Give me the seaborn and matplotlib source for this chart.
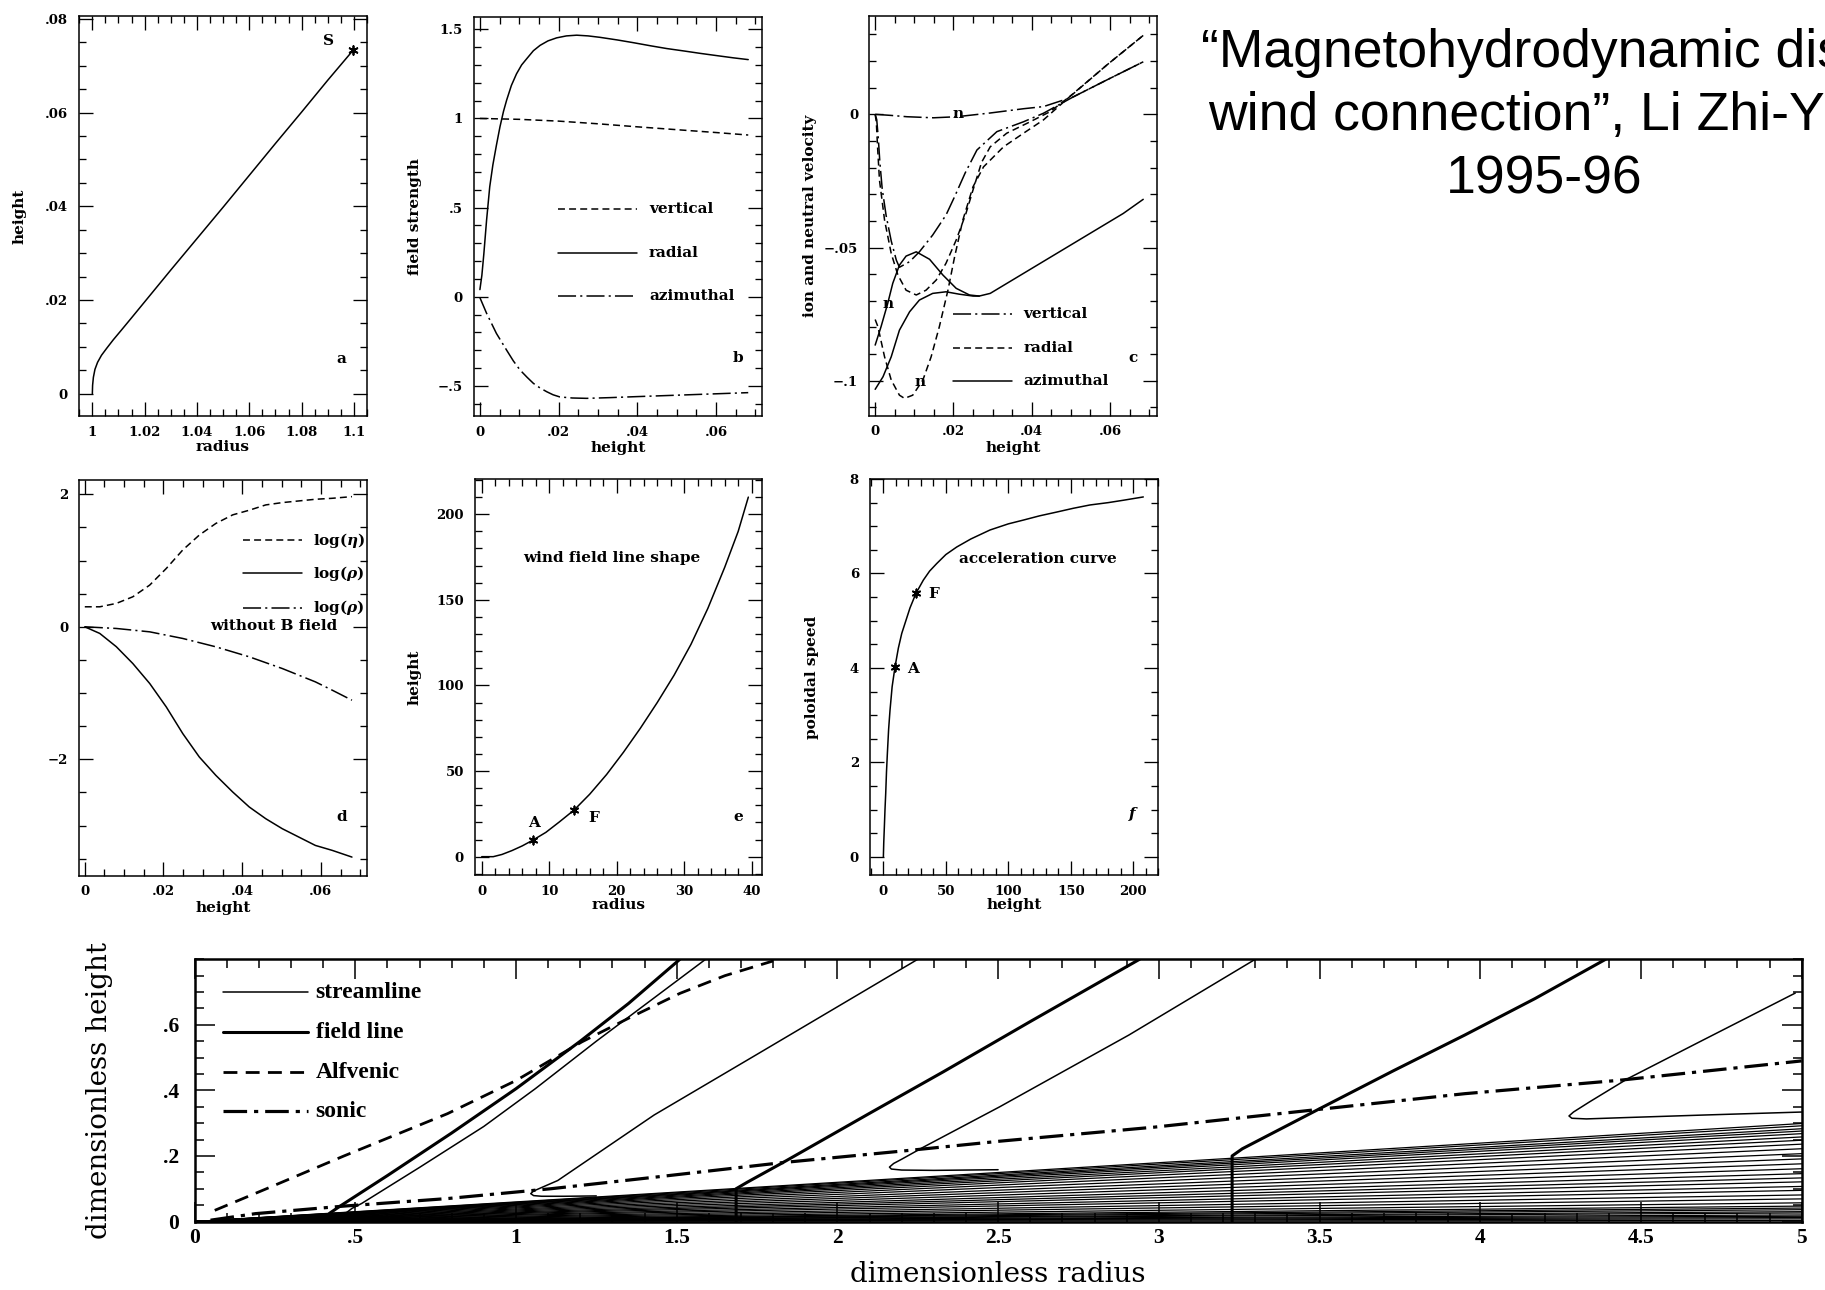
import matplotlib
matplotlib.use("Agg")
import matplotlib.pyplot as plt
from matplotlib.ticker import MultipleLocator, FixedLocator, FuncFormatter
import seaborn as sns

# ---------------- DATA ----------------
# Panel a : field line shape near the disk
a_radius = [1.0, 1.0001, 1.0004, 1.001, 1.002, 1.0035, 1.0055, 1.008, 1.011, 1.015, 1.02,
            1.03, 1.04, 1.05, 1.06, 1.07, 1.08, 1.09, 1.0997]
a_height = [0.0, 0.0018, 0.0035, 0.0052, 0.0067, 0.0082, 0.0097, 0.0115, 0.0135, 0.0162, 0.0196,
            0.0264, 0.0331, 0.0398, 0.0466, 0.0534, 0.0601, 0.0669, 0.0733]
a_point_r = [1.0997]
a_point_h = [0.0733]
a_xticks = [1.0, 1.02, 1.04, 1.06, 1.08, 1.1]
a_yticks = [0.0, 0.02, 0.04, 0.06, 0.08]

# Panel b : field strength vs height
b_h_radial = [0, 0.0005, 0.001, 0.0017, 0.0025, 0.0033, 0.0042, 0.0051, 0.006, 0.0068, 0.008,
              0.0093, 0.0106, 0.0119, 0.0136, 0.0153, 0.0173, 0.0195, 0.022, 0.0246, 0.0275,
              0.0305, 0.035, 0.039, 0.0435, 0.0475, 0.052, 0.056, 0.06, 0.0644, 0.0682]
b_radial = [0.04, 0.12, 0.24, 0.43, 0.617, 0.74, 0.85, 0.953, 1.04, 1.103, 1.185,
            1.25, 1.3, 1.335, 1.38, 1.41, 1.435, 1.452, 1.463, 1.467, 1.463,
            1.455, 1.44, 1.425, 1.407, 1.392, 1.378, 1.365, 1.353, 1.34, 1.33]
b_h_vertical = [0, 0.01, 0.02, 0.03, 0.04, 0.05, 0.06, 0.0682]
b_vertical = [1.0, 0.995, 0.985, 0.97, 0.953, 0.937, 0.921, 0.907]
b_h_azimuthal = [0, 0.0017, 0.0042, 0.0068, 0.0085, 0.0102, 0.012, 0.0136, 0.0153, 0.017, 0.0186,
                 0.0203, 0.0235, 0.0271, 0.033, 0.039, 0.0517, 0.0682]
b_azimuthal = [-0.005, -0.093, -0.206, -0.3, -0.36, -0.411, -0.452, -0.486, -0.512, -0.533, -0.55,
               -0.562, -0.568, -0.57, -0.566, -0.561, -0.551, -0.538]
b_xticks = [0.0, 0.02, 0.04, 0.06]
b_yticks = [-0.5, 0.0, 0.5, 1.0, 1.5]

# Panel c : ion and neutral velocities
c_h_vert_n = [0, 0.004, 0.0081, 0.0149, 0.0209, 0.0294, 0.0379, 0.043, 0.0507, 0.0592, 0.0685]
c_vert_n = [0, -0.0004, -0.0009, -0.0013, -0.0009, 0.0005, 0.0021, 0.0029, 0.0066, 0.0129, 0.0197]
c_h_vert_i = [0, 0.0004, 0.0008, 0.0012, 0.0018, 0.0028, 0.0041, 0.0054, 0.0062, 0.0088, 0.0113,
              0.0147, 0.0181, 0.0203, 0.023, 0.026, 0.0311, 0.0379, 0.043, 0.0507, 0.0592, 0.0685]
c_vert_i = [0, -0.002, -0.009, -0.018, -0.028, -0.038, -0.0475, -0.0547, -0.0574, -0.0553, -0.0516,
            -0.0453, -0.0378, -0.0309, -0.022, -0.0134, -0.0065, -0.0028, 0.0004, 0.0066, 0.0129, 0.0197]
c_h_rad_i = [0, 0.0003, 0.0006, 0.0011, 0.0024, 0.0041, 0.0058, 0.0079, 0.0105, 0.013, 0.0156,
             0.0181, 0.0207, 0.0232, 0.025, 0.0272, 0.0294, 0.0336, 0.0396, 0.0447, 0.0507, 0.0592, 0.0685]
c_rad_i = [0, -0.003, -0.012, -0.0247, -0.0397, -0.0522, -0.0603, -0.066, -0.0678, -0.066, -0.0622,
           -0.0559, -0.0472, -0.0372, -0.0284, -0.018, -0.0122, -0.0071, -0.0028, 0.001, 0.0078, 0.0185, 0.0296]
c_h_rad_n = [0, 0.0007, 0.0024, 0.0041, 0.0062, 0.0075, 0.0096, 0.0122, 0.0143, 0.0164, 0.0186,
             0.0203, 0.0224, 0.025, 0.0277, 0.0328, 0.0379, 0.043, 0.0507, 0.0592, 0.0685]
c_rad_n = [-0.077, -0.0797, -0.091, -0.0997, -0.1054, -0.1066, -0.1054, -0.0997, -0.091, -0.0797, -0.066,
           -0.0535, -0.0397, -0.0272, -0.0197, -0.0122, -0.0071, -0.0021, 0.0079, 0.0185, 0.0296]
c_h_azi_n = [0, 0.0015, 0.0032, 0.0045, 0.0062, 0.0079, 0.0105, 0.0139, 0.0173, 0.0207, 0.0241,
             0.0266, 0.0294, 0.0379, 0.0464, 0.0549, 0.0634, 0.0685]
c_azi_n = [-0.0866, -0.0797, -0.071, -0.0634, -0.0566, -0.0532, -0.0516, -0.0544, -0.0603, -0.0653, -0.0678,
           -0.0682, -0.0672, -0.0597, -0.0522, -0.0447, -0.0372, -0.0319]
c_h_azi_i = [0, 0.002, 0.0041, 0.0062, 0.0088, 0.0113, 0.0147, 0.0181, 0.0215, 0.025, 0.0266]
c_azi_i = [-0.1032, -0.0985, -0.091, -0.081, -0.0741, -0.0697, -0.0672, -0.0666, -0.0675, -0.0682, -0.0682]
c_xticks = [0.0, 0.02, 0.04, 0.06]
c_yticks = [-0.1, -0.05, 0.0]

# Panel d : log(eta), log(rho)
d_height = [0, 0.0038, 0.008, 0.0122, 0.0165, 0.0207, 0.0249, 0.0291, 0.0333, 0.0376, 0.0418,
            0.046, 0.0502, 0.0544, 0.0586, 0.0629, 0.0679]
d_log_eta = [0.302, 0.302, 0.353, 0.453, 0.63, 0.88, 1.16, 1.385, 1.56, 1.69, 1.76,
             1.84, 1.875, 1.9, 1.925, 1.94, 1.965]
d_log_rho = [0, -0.1, -0.3, -0.554, -0.856, -1.209, -1.612, -1.965, -2.242, -2.494, -2.72,
             -2.897, -3.048, -3.174, -3.3, -3.375, -3.476]
d_h_noB = [0, 0.008, 0.0165, 0.0249, 0.0333, 0.0418, 0.0502, 0.0586, 0.0629, 0.0679]
d_log_rho_noB = [0, -0.025, -0.076, -0.176, -0.302, -0.453, -0.63, -0.831, -0.957, -1.108]
d_xticks = [0.0, 0.02, 0.04, 0.06]
d_yticks = [-2, 0, 2]

# Panel e : wind field line shape
e_radius = [0, 1.7, 3, 4.5, 6, 7.6, 9.5, 11.5, 13.7, 16, 18.5, 21, 23.5, 26, 28.5, 31, 33.5,
            36, 38, 39.5]
e_height = [0, 0, 1.3, 3.6, 6.3, 9.7, 14.2, 20.3, 27.3, 36.5, 48, 61, 75, 90, 106, 124, 145,
            169, 190, 210]
e_mark_r = [7.6, 13.7]
e_mark_h = [9.7, 27.3]
e_xticks = [0, 10, 20, 30, 40]
e_yticks = [0, 50, 100, 150, 200]

# Panel f : acceleration curve
f_height = [0, 0.3, 0.8, 1.3, 1.87, 2.5, 3.2, 4.2, 5.3, 7, 9.3, 12, 14.7, 18, 21.3, 26.1, 32, 37,
            42.7, 50, 58.7, 70, 85.3, 100, 112, 125, 138.7, 152, 165.3, 180, 192, 208]
f_speed = [0, 0.3, 0.64, 1.0, 1.34, 1.8, 2.19, 2.7, 3.1, 3.6, 4.02, 4.42, 4.73, 5.0, 5.27, 5.58,
           5.86, 6.05, 6.21, 6.4, 6.56, 6.73, 6.92, 7.05, 7.13, 7.22, 7.3, 7.38, 7.45, 7.5, 7.55, 7.62]
f_mark_h = [9.3, 26.1]
f_mark_s = [4.02, 5.58]
f_xticks = [0, 50, 100, 150, 200]
f_yticks = [0, 2, 4, 6, 8]

# Bottom panel : streamlines / field lines
alfven_r = [0.063, 0.224, 0.465, 0.787, 1.0, 1.205, 1.35, 1.51, 1.65, 1.80]
alfven_z = [0.034, 0.1, 0.2, 0.329, 0.43, 0.548, 0.62, 0.696, 0.75, 0.795]
sonic_r = [0.05, 0.19, 0.465, 0.787, 1.109, 1.43, 1.832, 2.234, 2.505, 2.987, 3.469, 3.952, 4.434, 5.0]
sonic_z = [0.004, 0.024, 0.047, 0.07, 0.1, 0.135, 0.18, 0.218, 0.245, 0.288, 0.339, 0.39, 0.431, 0.49]
field1_r = [0.42, 0.42, 0.45, 0.6, 0.8, 1.0, 1.2, 1.35, 1.51]
field1_z = [0.0, 0.025, 0.045, 0.14, 0.27, 0.405, 0.55, 0.665, 0.8]
field2_r = [1.685, 1.685, 1.72, 1.84, 2.1, 2.33, 2.6, 2.94]
field2_z = [0.0, 0.1, 0.12, 0.185, 0.33, 0.457, 0.61, 0.8]
field3_r = [3.228, 3.228, 3.26, 3.502, 3.73, 3.952, 4.17, 4.39]
field3_z = [0.0, 0.2, 0.222, 0.345, 0.46, 0.569, 0.68, 0.8]
stream1_r = [0.47, 0.49, 0.52, 0.7, 0.9, 1.06, 1.25, 1.42, 1.59]
stream1_z = [0.025, 0.04, 0.055, 0.165, 0.29, 0.405, 0.55, 0.675, 0.8]
stream2_r = [1.25, 1.15, 1.08, 1.055, 1.046, 1.055, 1.09, 1.13, 1.43, 1.75, 2.0, 2.25]
stream2_z = [0.078, 0.077, 0.077, 0.079, 0.085, 0.093, 0.108, 0.125, 0.325, 0.51, 0.655, 0.8]
stream3_r = [2.5, 2.3, 2.2, 2.168, 2.162, 2.175, 2.2, 2.266, 2.505, 2.907, 3.3]
stream3_z = [0.158, 0.156, 0.157, 0.16, 0.166, 0.177, 0.19, 0.226, 0.35, 0.569, 0.8]
stream4_r = [5.0, 4.7, 4.45, 4.33, 4.285, 4.276, 4.29, 4.34, 4.459, 4.676, 4.98]
stream4_z = [0.334, 0.325, 0.317, 0.313, 0.315, 0.322, 0.334, 0.365, 0.436, 0.545, 0.697]
disk_stream_heights_at_r5 = [0.299, 0.292, 0.283, 0.276, 0.268, 0.258, 0.248, 0.236, 0.222, 0.207,
                             0.191, 0.176, 0.161, 0.146, 0.133, 0.121, 0.107, 0.095, 0.081, 0.069,
                             0.057, 0.047, 0.041, 0.036, 0.03, 0.026, 0.02, 0.016, 0.012, 0.008, 0.003]
bot_xticks = [0, 0.5, 1, 1.5, 2, 2.5, 3, 3.5, 4, 4.5, 5]
bot_yticks = [0, 0.2, 0.4, 0.6]

title_lines = ["\u201cMagnetohydrodynamic disk-", "wind connection\u201d, Li Zhi-Yun", "1995-96"]

# ---------------- STYLE ----------------
sns.set_theme(style="ticks")
plt.rcParams.update({
    "font.family": ["DejaVu Serif"],
    "font.weight": "bold",
    "mathtext.fontset": "dejavuserif",
    "axes.edgecolor": "black", "axes.labelcolor": "black", "text.color": "black",
    "xtick.color": "black", "ytick.color": "black",
    "axes.facecolor": "white", "figure.facecolor": "white",
    "lines.scale_dashes": False,
    "axes.labelweight": "bold",
})

DASH = (0, (5, 3))
DASHDOT = (0, (13, 3, 1.5, 3))
LW = 1.1
TFS = 11      # annotation / legend / label size in the small panels

fig = plt.figure(figsize=(18.25, 12.9), dpi=100)


def fmt_tick(v, pos=None):
    if abs(v) < 1e-9:
        return "0"
    s = f"{v:.6f}".rstrip("0").rstrip(".")
    neg = s.startswith("-")
    if neg:
        s = s[1:]
    if s.startswith("0."):
        s = s[1:]
    return ("\u2212" if neg else "") + s


def style_axes(ax, xlim, ylim, xticks, xminor, yticks, yminor,
               maj=10, mnr=5, tw=0.95, sw=1.1, fs=9.5, xpad=7, ypad=8, family=None):
    ax.set_xlim(*xlim)
    ax.set_ylim(*ylim)
    ax.xaxis.set_major_locator(FixedLocator(xticks))
    ax.yaxis.set_major_locator(FixedLocator(yticks))
    ax.xaxis.set_minor_locator(MultipleLocator(xminor))
    ax.yaxis.set_minor_locator(MultipleLocator(yminor))
    ax.xaxis.set_major_formatter(FuncFormatter(fmt_tick))
    ax.yaxis.set_major_formatter(FuncFormatter(fmt_tick))
    ax.tick_params(which="both", direction="in", top=True, right=True, width=tw)
    ax.tick_params(which="major", length=maj, labelsize=fs)
    ax.tick_params(which="minor", length=mnr)
    ax.tick_params(axis="x", which="major", pad=xpad)
    ax.tick_params(axis="y", which="major", pad=ypad)
    if family:
        ax.tick_params(labelfontfamily=family)
    for sp in ax.spines.values():
        sp.set_linewidth(sw)
        sp.set_visible(True)
    ax.grid(False)


def line(ax, x, y, **kw):
    sns.lineplot(x=x, y=y, ax=ax, color="black", sort=False, estimator=None, **kw)


def keys(ax, x0, x1, xt, ys, styles, labels, fs=TFS, **tkw):
    for y, st, lab in zip(ys, styles, labels):
        ax.plot([x0, x1], [y, y], transform=ax.transAxes, color="black", **st)
        ax.text(xt, y, lab, transform=ax.transAxes, va="center", ha="left", fontsize=fs, **tkw)


def labels(ax, xl, xl_y, yl=None, yl_x=None, fs=TFS):
    ax.set_xlabel(xl, fontsize=fs, va="center")
    ax.xaxis.set_label_coords(0.5, xl_y)
    if yl:
        ax.set_ylabel(yl, fontsize=fs, va="center")
        ax.yaxis.set_label_coords(yl_x, 0.5)
    else:
        ax.set_ylabel("")


def note(ax, x, y, s, **kw):
    ax.text(x, y, s, ha="center", va="center", fontsize=TFS, **kw)


W, H = 1825.0, 1290.0


def box(l, t, r, b):
    return [l / W, 1 - b / H, (r - l) / W, (b - t) / H]


# ---- panel a
ax = fig.add_axes(box(79, 16, 367, 416))
line(ax, a_radius, a_height, lw=LW)
sns.scatterplot(x=a_point_r, y=a_point_h, ax=ax, marker=(6, 2, 0), s=40, color="black", linewidth=1.3)
style_axes(ax, (0.9949, 1.105), (-0.00476, 0.0806), a_xticks, 0.005, a_yticks, 0.005)
labels(ax, "radius", -0.077, "height", -0.208)
note(ax, 1.0902, 0.0752, "S")
note(ax, 1.0953, 0.0075, "a")

# ---- panel b
ax = fig.add_axes(box(474, 17, 762, 416))
line(ax, b_h_vertical, b_vertical, lw=LW, linestyle=DASH)
line(ax, b_h_radial, b_radial, lw=LW)
line(ax, b_h_azimuthal, b_azimuthal, lw=LW, linestyle=DASHDOT)
style_axes(ax, (-0.0015, 0.0717), (-0.669, 1.569), b_xticks, 0.005, b_yticks, 0.1)
labels(ax, "height", -0.08, "field strength", -0.205)
keys(ax, 0.2917, 0.566, 0.6076, [0.519, 0.4085, 0.3008],
     [dict(lw=LW, ls=DASH), dict(lw=LW), dict(lw=LW, ls=DASHDOT)],
     ["vertical", "radial", "azimuthal"])
note(ax, 0.0656, -0.346, "b")

# ---- panel c
ax = fig.add_axes(box(869.3, 16, 1157.3, 415.7))
line(ax, c_h_vert_n, c_vert_n, lw=LW, linestyle=DASHDOT)
line(ax, c_h_vert_i, c_vert_i, lw=LW, linestyle=DASHDOT)
line(ax, c_h_rad_i, c_rad_i, lw=LW, linestyle=DASH)
line(ax, c_h_rad_n, c_rad_n, lw=LW, linestyle=DASH)
line(ax, c_h_azi_n, c_azi_n, lw=LW)
line(ax, c_h_azi_i, c_azi_i, lw=LW)
style_axes(ax, (-0.0015, 0.0721), (-0.1131, 0.0369), c_xticks, 0.005, c_yticks, 0.01)
labels(ax, "height", -0.081, "ion and neutral velocity", -0.206)
keys(ax, 0.2896, 0.4944, 0.5347, [0.2537, 0.1688, 0.0878],
     [dict(lw=LW, ls=DASHDOT), dict(lw=LW, ls=DASH), dict(lw=LW)],
     ["vertical", "radial", "azimuthal"])
note(ax, 0.066, -0.0916, "c")
for (xn, yn) in [(0.0213, 0.0), (0.0032, -0.071), (0.0115, -0.1004)]:
    note(ax, xn, yn, "n")

# ---- panel d
ax = fig.add_axes(box(79.3, 480, 367.3, 875.7))
line(ax, d_height, d_log_eta, lw=LW, linestyle=DASH)
line(ax, d_height, d_log_rho, lw=LW)
line(ax, d_h_noB, d_log_rho_noB, lw=LW, linestyle=DASHDOT)
style_axes(ax, (-0.0014, 0.0718), (-3.757, 2.216), d_xticks, 0.005, d_yticks, 0.5)
labels(ax, "height", -0.082)
keys(ax, 0.567, 0.772, 0.8104, [0.848, 0.764, 0.677],
     [dict(lw=LW, ls=DASH), dict(lw=LW), dict(lw=LW, ls=DASHDOT)],
     [r"log($\eta$)", r"log($\rho$)", r"log($\rho$)"])
ax.text(0.455, 0.632, "without B field", transform=ax.transAxes, ha="left", va="center", fontsize=TFS)
note(ax, 0.0654, -2.87, "d")

# ---- panel e
ax = fig.add_axes(box(475, 479.3, 762.3, 875))
line(ax, e_radius, e_height, lw=LW)
sns.scatterplot(x=e_mark_r, y=e_mark_h, ax=ax, marker=(6, 2, 0), s=35, color="black", linewidth=1.3)
style_axes(ax, (-1.0, 41.57), (-10.7, 220.4), e_xticks, 2, e_yticks, 10)
labels(ax, "radius", -0.076, "height", -0.209)
note(ax, 7.75, 19.5, "A")
note(ax, 16.6, 22.4, "F")
note(ax, 38.0, 23.4, "e")
note(ax, 19.2, 174.3, "wind field line shape")

# ---- panel f
ax = fig.add_axes(box(870, 479, 1158.3, 875))
line(ax, f_height, f_speed, lw=LW)
sns.scatterplot(x=f_mark_h, y=f_mark_s, ax=ax, marker=(6, 2, 0), s=35, color="black", linewidth=1.3)
style_axes(ax, (-10.7, 220), (-0.385, 8.0), f_xticks, 10, f_yticks, 0.5)
labels(ax, "height", -0.076, "poloidal speed", -0.202)
note(ax, 23.5, 3.97, "A")
note(ax, 40, 5.57, "F")
note(ax, 198.7, 0.91, "f", style="italic")
note(ax, 124, 6.31, "acceleration curve")

# ---- bottom panel
ax = fig.add_axes(box(194.5, 959.3, 1801.7, 1221.5))
for h in disk_stream_heights_at_r5:
    line(ax, [0, 5], [0, h], lw=0.9)
STREAM_LW, FIELD_LW = 1.1, 2.2
ALF = (0, (10, 6))
SON = (0, (17, 5, 3, 5))
line(ax, alfven_r, alfven_z, lw=2.0, linestyle=ALF)
line(ax, sonic_r, sonic_z, lw=2.3, linestyle=SON)
for xs, zs in [(field1_r, field1_z), (field2_r, field2_z), (field3_r, field3_z)]:
    line(ax, xs, zs, lw=FIELD_LW)
for xs, zs in [(stream1_r, stream1_z), (stream2_r, stream2_z), (stream3_r, stream3_z), (stream4_r, stream4_z)]:
    line(ax, xs, zs, lw=STREAM_LW)
style_axes(ax, (0, 5), (0, 0.8), bot_xticks, 0.1, bot_yticks, 0.05,
           maj=14.5, mnr=6.5, tw=1.1, sw=1.8, fs=15.5, xpad=5, ypad=11, family="Liberation Serif")
ax.set_xlabel("dimensionless radius", fontsize=20, fontweight="normal", va="center")
ax.xaxis.set_label_coords(0.5, -0.202)
ax.set_ylabel("dimensionless height", fontsize=20, fontweight="normal", va="center")
ax.yaxis.set_label_coords(-0.0594, 0.5)
keys(ax, 0.0176, 0.0706, 0.0754, [0.874, 0.721, 0.569, 0.42],
     [dict(lw=STREAM_LW), dict(lw=FIELD_LW), dict(lw=2.0, ls=ALF), dict(lw=2.3, ls=SON)],
     ["streamline", "field line", "Alfvenic", "sonic"], fs=17, family="Liberation Serif")

# ---- title text (runs past the right edge exactly as in the original slide)
for txt, yb in zip(title_lines, [67, 130, 194]):
    fig.text(1544.5 / W, 1 - yb / H, txt, ha="center", va="baseline", fontsize=38.5,
             family=["Liberation Sans"], fontweight="normal")

fig.savefig("out.png", dpi=100)
